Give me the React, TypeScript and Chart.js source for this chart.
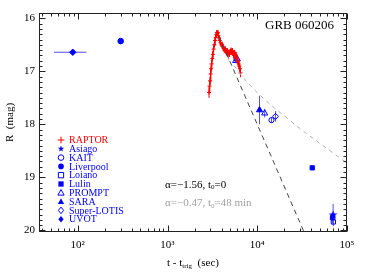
import React, { useEffect, useRef } from "react";
import { Chart, registerables } from "chart.js";
Chart.register(...registerables);

const SERIF = '"Liberation Serif","Times New Roman","DejaVu Serif",serif';
const BLUE = "#0000ff";
const ERR = "#5050ff";
const RED = "#ff0000";

// RAPTOR light curve (t in s, R mag)
const raptorT = [2900, 2940, 2980, 3020, 3060, 3100, 3150, 3200, 3260, 3320, 3380, 3440, 3500, 3550, 3600, 3650, 3700, 3760, 3820, 3900, 3980, 4060, 4140, 4220, 4300, 4380, 4460, 4540, 4620, 4700, 4800, 4900, 5000, 5100, 5200, 5300, 5400, 5500, 5600, 5700, 5800, 5900, 6000, 6100, 6200, 6300, 6400, 6500];
const raptorR = [17.40, 17.28, 17.18, 17.05, 16.95, 16.86, 16.76, 16.68, 16.58, 16.50, 16.42, 16.36, 16.31, 16.27, 16.29, 16.27, 16.33, 16.37, 16.42, 16.46, 16.50, 16.49, 16.54, 16.57, 16.60, 16.57, 16.62, 16.65, 16.61, 16.67, 16.64, 16.68, 16.63, 16.60, 16.64, 16.61, 16.66, 16.70, 16.65, 16.72, 16.69, 16.75, 16.79, 16.82, 16.86, 16.90, 16.95, 17.03];
const raptorE = [0.10, 0.09, 0.08, 0.08, 0.07, 0.07, 0.06, 0.06, 0.06, 0.05, 0.05, 0.05, 0.05, 0.05, 0.05, 0.05, 0.05, 0.05, 0.05, 0.05, 0.05, 0.05, 0.05, 0.05, 0.05, 0.05, 0.05, 0.05, 0.05, 0.05, 0.05, 0.05, 0.05, 0.05, 0.05, 0.05, 0.05, 0.05, 0.05, 0.06, 0.06, 0.06, 0.06, 0.07, 0.07, 0.07, 0.08, 0.08];

const asiagoT = [70000];
const asiagoR = [19.70];
const asiagoE = [0.2];
const kaitT = [14400];
const kaitR = [17.92];
const kaitE = [0.05];
const liverpoolT = [301];
const liverpoolR = [16.43];
const liverpoolE = [0.03];
const loianoT = [70500];
const loianoR = [19.84];
const loianoE = [0.08];
const lulinT = [41000, 69000];
const lulinR = [18.82, 19.76];
const lulinE = [0.03, 0.1];
const promptT = [5750, 6000, 12100];
const promptR = [16.80, 16.77, 17.79];
const promptE = [0.04, 0.04, 0.08];
const saraT = [10600];
const saraR = [17.73];
const saraE = [0.27];
const lotisT = [16000];
const lotisR = [17.85];
const lotisE = [0.1];
const uvotT = [88];
const uvotR = [16.64];
const uvotE = [0.05];
const uvotTLo = [54.5];
const uvotTHi = [125];

// model lines
const steepT = [3750, 34000];
const steepR = [16.34, 20.07];
const shallowT = [5500, 7000, 10000, 15000, 20000, 30000, 50000, 100000];
const shallowR = [16.89, 17.12, 17.40, 17.67, 17.84, 18.08, 18.36, 18.73];

const xTicks = [100, 1000, 10000, 100000];
const xTickLabels = ["10²", "10³", "10⁴", "10⁵"];
const yTicks = [16, 17, 18, 19, 20];

const legendItems = [
  { label: "RAPTOR", style: "plus", filled: true, color: RED },
  { label: "Asiago", style: "star", filled: true, color: BLUE },
  { label: "KAIT", style: "circle", filled: false, color: BLUE },
  { label: "Liverpool", style: "circle", filled: true, color: BLUE },
  { label: "Loiano", style: "rect", filled: false, color: BLUE },
  { label: "Lulin", style: "rect", filled: true, color: BLUE },
  { label: "PROMPT", style: "triangle", filled: false, color: BLUE },
  { label: "SARA", style: "triangle", filled: true, color: BLUE },
  { label: "Super-LOTIS", style: "diamond", filled: false, color: BLUE },
  { label: "UVOT", style: "diamond", filled: true, color: BLUE },
];

function pts(t: number[], r: number[]) {
  return t.map((v, i) => ({ x: v, y: r[i] }));
}

function drawMarker(ctx: CanvasRenderingContext2D, style: string, x: number, y: number, r: number, filled: boolean, color: string) {
  ctx.save();
  ctx.strokeStyle = color;
  ctx.fillStyle = color;
  ctx.lineWidth = 1;
  ctx.beginPath();
  if (style === "plus") {
    ctx.moveTo(x - r, y); ctx.lineTo(x + r, y);
    ctx.moveTo(x, y - r); ctx.lineTo(x, y + r);
    ctx.stroke();
  } else if (style === "circle") {
    ctx.arc(x, y, r * 0.85, 0, Math.PI * 2);
    filled ? ctx.fill() : ctx.stroke();
  } else if (style === "rect") {
    const s = r * 0.8;
    ctx.rect(x - s, y - s, 2 * s, 2 * s);
    filled ? ctx.fill() : ctx.stroke();
  } else if (style === "triangle") {
    ctx.moveTo(x, y - r);
    ctx.lineTo(x + r * 0.95, y + r * 0.7);
    ctx.lineTo(x - r * 0.95, y + r * 0.7);
    ctx.closePath();
    filled ? ctx.fill() : ctx.stroke();
  } else if (style === "diamond") {
    ctx.moveTo(x, y - r); ctx.lineTo(x + r * 0.8, y); ctx.lineTo(x, y + r); ctx.lineTo(x - r * 0.8, y);
    ctx.closePath();
    filled ? ctx.fill() : ctx.stroke();
  } else if (style === "star") {
    for (let i = 0; i < 10; i++) {
      const a = -Math.PI / 2 + (i * Math.PI) / 5;
      const rr = i % 2 === 0 ? r : r * 0.42;
      const px = x + rr * Math.cos(a), py = y + rr * Math.sin(a);
      i === 0 ? ctx.moveTo(px, py) : ctx.lineTo(px, py);
    }
    ctx.closePath();
    ctx.fill();
  }
  ctx.restore();
}

function makeStar(size: number, color: string) {
  const c = document.createElement("canvas");
  c.width = size; c.height = size;
  const g = c.getContext("2d")!;
  drawMarker(g, "star", size / 2, size / 2 + 0.5, size / 2, true, color);
  return c;
}

const errorSets = [
  { t: raptorT, r: raptorR, e: raptorE, color: RED },
  { t: asiagoT, r: asiagoR, e: asiagoE, color: ERR },
  { t: kaitT, r: kaitR, e: kaitE, color: ERR },
  { t: liverpoolT, r: liverpoolR, e: liverpoolE, color: ERR },
  { t: loianoT, r: loianoR, e: loianoE, color: ERR },
  { t: lulinT, r: lulinR, e: lulinE, color: ERR },
  { t: promptT, r: promptR, e: promptE, color: ERR },
  { t: saraT, r: saraR, e: saraE, color: ERR },
  { t: lotisT, r: lotisR, e: lotisE, color: ERR },
  { t: uvotT, r: uvotR, e: uvotE, color: ERR },
];

const errorBarPlugin = {
  id: "errorBars",
  beforeDatasetsDraw(chart: any) {
    const { ctx, scales: { x, y } } = chart;
    ctx.save();
    ctx.lineWidth = 1;
    errorSets.forEach((s) => {
      ctx.strokeStyle = s.color;
      s.t.forEach((t, i) => {
        const px = x.getPixelForValue(t);
        ctx.beginPath();
        ctx.moveTo(px, y.getPixelForValue(s.r[i] - s.e[i]));
        ctx.lineTo(px, y.getPixelForValue(s.r[i] + s.e[i]));
        ctx.stroke();
      });
    });
    ctx.strokeStyle = ERR;
    uvotT.forEach((t, i) => {
      const py = y.getPixelForValue(uvotR[i]);
      ctx.beginPath();
      ctx.moveTo(x.getPixelForValue(uvotTLo[i]), py);
      ctx.lineTo(x.getPixelForValue(uvotTHi[i]), py);
      ctx.stroke();
    });
    ctx.restore();
  },
};

const framePlugin = {
  id: "frame",
  afterDraw(chart: any) {
    const { ctx, chartArea, scales: { x, y } } = chart;
    const { left, right, top, bottom } = chartArea;
    ctx.save();
    ctx.strokeStyle = "#222";
    ctx.lineWidth = 1;
    const L = Math.round(left) + 0.5, R = Math.round(right) - 0.5;
    const T = Math.round(top) + 0.5, B = Math.round(bottom) - 0.5;
    ctx.strokeRect(L, T, R - L, B - T);
    ctx.beginPath();
    for (let e = 1; e <= 5; e++) {
      for (let k = 1; k <= 9; k++) {
        const v = k * Math.pow(10, e);
        if (v < x.min || v > x.max) continue;
        const px = Math.round(x.getPixelForValue(v)) + 0.5;
        const len = k === 1 ? 6 : 3;
        ctx.moveTo(px, B); ctx.lineTo(px, B - len);
        ctx.moveTo(px, T); ctx.lineTo(px, T + len);
      }
    }
    for (let i = 159; i <= 200; i++) {
      const v = i / 10;
      if (v < y.min || v > y.max) continue;
      const py = Math.round(y.getPixelForValue(v)) + 0.5;
      const len = i % 10 === 0 ? 6 : 3;
      ctx.moveTo(L, py); ctx.lineTo(L + len, py);
      ctx.moveTo(R, py); ctx.lineTo(R - len, py);
    }
    ctx.stroke();

    // title
    ctx.fillStyle = "#000";
    ctx.font = `13px ${SERIF}`;
    ctx.textAlign = "right";
    ctx.textBaseline = "middle";
    ctx.fillText("GRB 060206", 334, 26);

    // legend
    ctx.font = `10px ${SERIF}`;
    ctx.textAlign = "left";
    legendItems.forEach((it, i) => {
      const ly = 140 + i * 8.8;
      drawMarker(ctx, it.style, 61, ly, 3.3, it.filled, it.color);
      ctx.fillStyle = it.color;
      ctx.fillText(it.label, 69, ly + 0.5);
    });

    // annotations
    const annot = (color: string, a: string, b: string, yy: number) => {
      ctx.fillStyle = color;
      ctx.font = `11px ${SERIF}`;
      let cx = 165;
      ctx.fillText(a, cx, yy);
      cx += ctx.measureText(a).width;
      ctx.font = `7px ${SERIF}`;
      ctx.fillText("0", cx, yy + 2.5);
      cx += ctx.measureText("0").width;
      ctx.font = `11px ${SERIF}`;
      ctx.fillText(b, cx, yy);
    };
    annot("#000", "α=−1.56, t", "=0", 185);
    annot("#a0a0a0", "α=−0.47, t", "=48 min", 203.5);

    // x title
    ctx.fillStyle = "#000";
    ctx.font = `11px ${SERIF}`;
    const p1 = "t - t", p2 = "trig", p3 = "  (sec)";
    const w1 = ctx.measureText(p1).width;
    const w3 = ctx.measureText(p3).width;
    ctx.font = `7px ${SERIF}`;
    const w2 = ctx.measureText(p2).width;
    let sx = (left + right) / 2 - (w1 + w2 + w3) / 2;
    const ty = 263;
    ctx.font = `11px ${SERIF}`;
    ctx.fillText(p1, sx, ty);
    sx += w1;
    ctx.font = `7px ${SERIF}`;
    ctx.fillText(p2, sx, ty + 3);
    sx += w2;
    ctx.font = `11px ${SERIF}`;
    ctx.fillText(p3, sx, ty);

    // y title
    ctx.save();
    ctx.translate(10, (top + bottom) / 2);
    ctx.rotate(-Math.PI / 2);
    ctx.textAlign = "center";
    ctx.font = `11px ${SERIF}`;
    ctx.fillText("R  (mag)", 0, 0);
    ctx.restore();

    ctx.restore();
  },
};

export default function App() {
  const ref = useRef<HTMLCanvasElement>(null);
  useEffect(() => {
    if (!ref.current) return;
    const star = makeStar(9, BLUE);
    const pointDs = (label: string, t: number[], r: number[], style: any, filled: boolean, radius: number) => ({
      label,
      data: pts(t, r),
      pointStyle: style,
      pointRadius: radius,
      pointBorderWidth: 1,
      borderColor: BLUE,
      backgroundColor: filled ? BLUE : "rgba(0,0,0,0)",
      showLine: false,
    });
    const chart = new Chart(ref.current, {
      type: "scatter",
      data: {
        datasets: [
          {
            label: "steep",
            data: pts(steepT, steepR),
            showLine: true,
            borderColor: "#444",
            borderWidth: 1,
            borderDash: [5, 4],
            pointRadius: 0,
          },
          {
            label: "shallow",
            data: pts(shallowT, shallowR),
            showLine: true,
            borderColor: "#b0b0b0",
            borderWidth: 1,
            borderDash: [4, 4],
            pointRadius: 0,
            cubicInterpolationMode: "monotone",
          },
          {
            label: "RAPTOR",
            data: pts(raptorT, raptorR),
            showLine: true,
            borderColor: RED,
            borderWidth: 1.5,
            pointStyle: "cross",
            pointRadius: 2,
            pointBorderColor: RED,
            pointBorderWidth: 1,
          },
          pointDs("Asiago", asiagoT, asiagoR, star, true, 4.5),
          pointDs("KAIT", kaitT, kaitR, "circle", false, 2.6),
          pointDs("Liverpool", liverpoolT, liverpoolR, "circle", true, 2.8),
          pointDs("Loiano", loianoT, loianoR, "rect", false, 3),
          pointDs("Lulin", lulinT, lulinR, "rect", true, 3),
          pointDs("PROMPT", promptT, promptR, "triangle", false, 3.5),
          pointDs("SARA", saraT, saraR, "triangle", true, 3.5),
          pointDs("Super-LOTIS", lotisT, lotisR, "rectRot", false, 3),
          pointDs("UVOT", uvotT, uvotR, "rectRot", true, 3.2),
        ] as any,
      },
      options: {
        animation: false,
        responsive: true,
        maintainAspectRatio: false,
        layout: { padding: { top: 13, right: 20, left: 0, bottom: 0 } },
        plugins: { legend: { display: false }, tooltip: { enabled: false }, title: { display: false } },
        scales: {
          x: {
            type: "logarithmic",
            min: 37,
            max: 100000,
            afterBuildTicks: (s: any) => {
              s.ticks = xTicks.map((v) => ({ value: v }));
            },
            afterFit: (s: any) => {
              s.height = 43;
            },
            ticks: {
              autoSkip: false,
              maxRotation: 0,
              padding: 7,
              color: "#000",
              font: { family: SERIF, size: 11 },
              callback: (v: any) => {
                const i = xTicks.indexOf(Number(v));
                return i >= 0 ? xTickLabels[i] : "";
              },
            },
            grid: { display: false, drawTicks: false },
            border: { display: false },
          },
          y: {
            type: "linear",
            reverse: true,
            min: 15.9,
            max: 20.03,
            afterBuildTicks: (s: any) => {
              s.ticks = yTicks.map((v) => ({ value: v }));
            },
            afterFit: (s: any) => {
              s.width = 39;
            },
            ticks: {
              padding: 4,
              color: "#000",
              font: { family: SERIF, size: 11 },
              callback: (v: any) => String(v),
            },
            grid: { display: false, drawTicks: false },
            border: { display: false },
          },
        },
      } as any,
      plugins: [errorBarPlugin, framePlugin],
    });
    return () => chart.destroy();
  }, []);
  return (
    <div style={{ position: "fixed", left: 0, top: 0, width: 367, height: 275, background: "#fff" }}>
      <canvas ref={ref} />
    </div>
  );
}
